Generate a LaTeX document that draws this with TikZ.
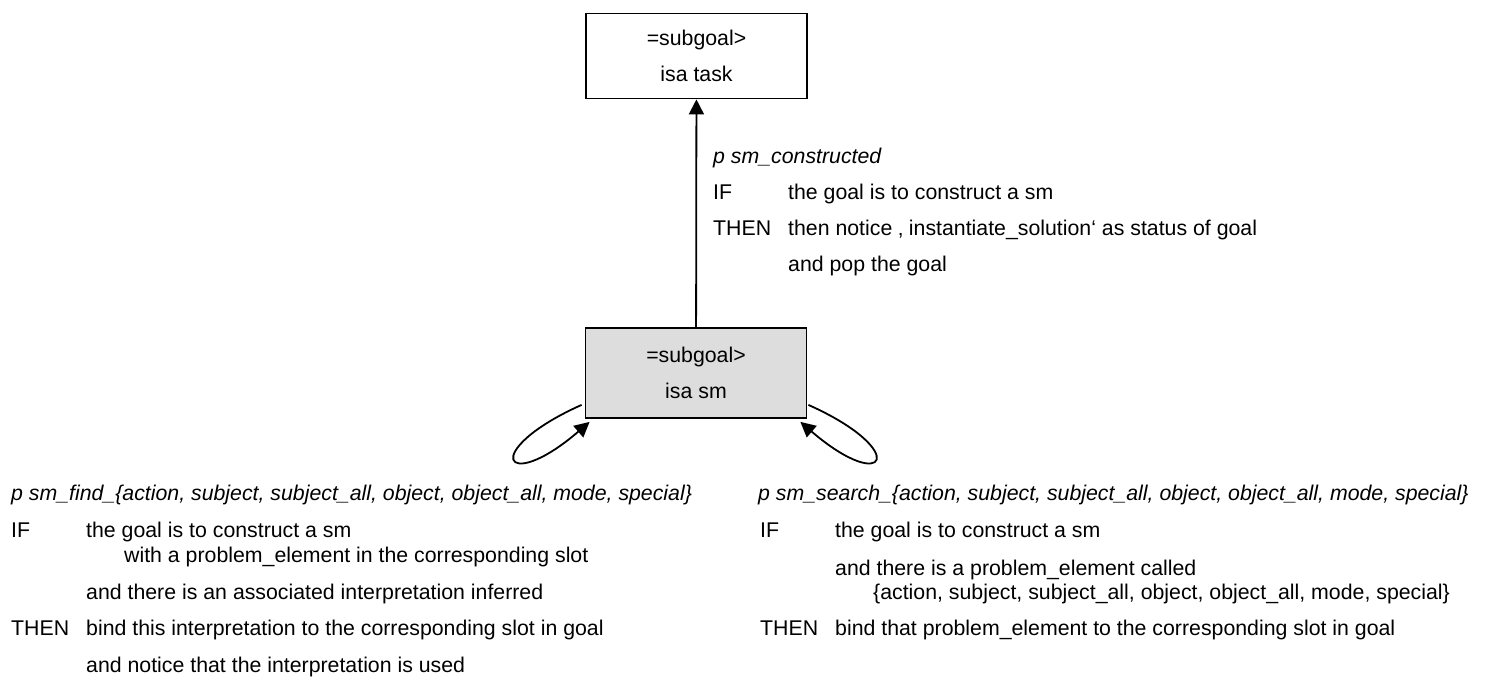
\documentclass[tikz,border=0pt]{standalone}
\usepackage{fontspec}
\setmainfont{Liberation Sans}
\usetikzlibrary{arrows.meta,calc}
\definecolor{boxgray}{RGB}{221,221,221}
\begin{document}
\begin{tikzpicture}[x=1pt,y=-1pt,
  box/.style={draw, line width=1.8pt, minimum width=221pt, minimum height=85pt,
    align=center, inner sep=0pt, font=\fontsize{21.3}{36.5}\selectfont},
  txt/.style={anchor=mid west, inner sep=0pt, font=\fontsize{21.3}{25}\selectfont},
  itxt/.style={anchor=mid west, inner sep=0pt, font=\fontsize{21.3}{25}\selectfont\itshape},
  arr/.style={line width=1.8pt, -{Triangle[length=15pt,width=15pt]}}]
\useasboundingbox (0,0) rectangle (1485,679);

% boxes
\node[box] (task) at (696.5,56) {=subgoal>\\isa task};
\node[box, fill=boxgray, minimum height=90pt] (sm) at (696,373) {=subgoal>\\isa sm};

% connectors
\draw[arr] (sm) -- (task);
\draw[arr] ($(sm.south west)+(-3,-14)$) .. controls ($(sm.south west)+(-106,32)$) and ($(sm.south west)+(-81,77)$) .. ($(sm.south west)+(5,3)$);
\draw[arr] ($(sm.south east)+(1,-14)$) .. controls ($(sm.south east)+(104,32)$) and ($(sm.south east)+(79,77)$) .. ($(sm.south east)+(-7,3)$);

% middle production
\node[itxt] (ph) at (713,161) {p sm\_constructed};
\node[txt] (pif) at (713,197) {IF};
\node[txt] (pifc) at (788,197) {the goal is to construct a sm};
\node[txt] (pth) at (713,233) {THEN};
\node[txt] (pthc) at (788,233) {then notice ‚ instantiate\_solution‘ as status of goal};
\node[txt] (pth2) at (788,269) {and pop the goal};

% left production
\node[itxt] (fh) at (11,498) {p sm\_find\_\{action, subject, subject\_all, object, object\_all, mode, special\}};
\node[txt] (fif) at (11,535) {IF};
\node[txt] (fifc) at (86,535) {the goal is to construct a sm};
\node[txt] (fif2) at (124,560) {with a problem\_element in the corresponding slot};
\node[txt] (fif3) at (86,597) {and there is an associated interpretation inferred};
\node[txt] (fth) at (11,633) {THEN};
\node[txt] (fthc) at (86,633) {bind this interpretation to the corresponding slot in goal};
\node[txt] (fth2) at (86,670) {and notice that the interpretation is used};

% right production
\node[itxt] (sh) at (758,498) {p sm\_search\_\{action, subject, subject\_all, object, object\_all, mode, special\}};
\node[txt] (sif) at (760,535) {IF};
\node[txt] (sifc) at (835,535) {the goal is to construct a sm};
\node[txt] (sif2) at (835,573) {and there is a problem\_element called};
\node[txt] (sif3) at (873,597) {\{action, subject, subject\_all, object, object\_all, mode, special\}};
\node[txt] (sth) at (760,633) {THEN};
\node[txt] (sthc) at (835,633) {bind that problem\_element to the corresponding slot in goal};
\end{tikzpicture}
\end{document}
